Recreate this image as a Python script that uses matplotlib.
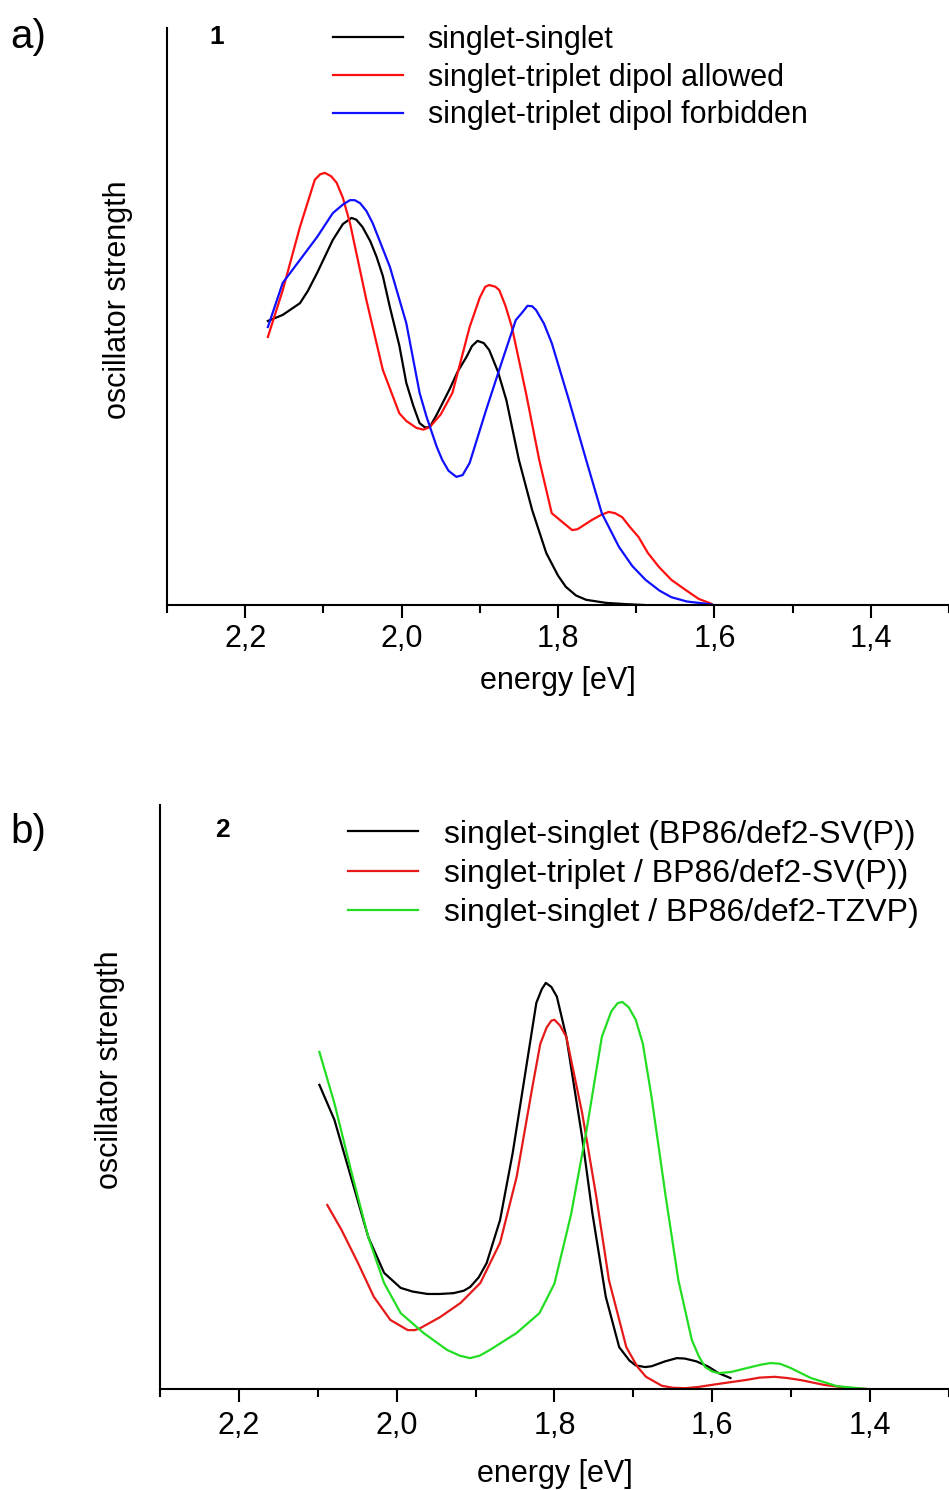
import matplotlib.pyplot as plt
from matplotlib.ticker import MultipleLocator, FuncFormatter

plt.rcParams['font.family'] = ['Liberation Sans', 'DejaVu Sans']

# --- Teil a): Verbindung 1 ---
ea_ss = [2.171, 2.152, 2.130, 2.120, 2.108, 2.098, 2.088, 2.075, 2.064, 2.058,
         2.050, 2.040, 2.032, 2.024, 2.015, 2.003, 1.994, 1.985, 1.977, 1.970,
         1.964, 1.955, 1.939, 1.928, 1.917, 1.910, 1.903, 1.895, 1.888, 1.877,
         1.866, 1.850, 1.833, 1.815, 1.800, 1.790, 1.777, 1.764, 1.739, 1.713,
         1.690]
ia_ss = [0.656, 0.670, 0.697, 0.725, 0.767, 0.805, 0.843, 0.880, 0.894, 0.890,
         0.873, 0.840, 0.804, 0.760, 0.688, 0.600, 0.513, 0.460, 0.420, 0.410,
         0.411, 0.440, 0.497, 0.540, 0.573, 0.598, 0.610, 0.605, 0.589, 0.540,
         0.473, 0.335, 0.219, 0.120, 0.068, 0.042, 0.022, 0.012, 0.005, 0.002,
         0.0]

ea_st_allowed = [2.171, 2.152, 2.130, 2.111, 2.104, 2.098, 2.090, 2.083, 2.075, 2.066,
                 2.045, 2.024, 2.003, 1.994, 1.981, 1.972, 1.964, 1.950, 1.935, 1.913,
                 1.900, 1.893, 1.888, 1.880, 1.875, 1.867, 1.859, 1.841, 1.824, 1.808,
                 1.790, 1.782, 1.775, 1.757, 1.745, 1.735, 1.727, 1.718, 1.708, 1.697,
                 1.685, 1.671, 1.655, 1.637, 1.620, 1.604]
ia_st_allowed = [0.619, 0.727, 0.873, 0.982, 0.995, 0.998, 0.990, 0.975, 0.940, 0.882,
                 0.704, 0.543, 0.443, 0.425, 0.409, 0.405, 0.411, 0.440, 0.490, 0.642,
                 0.710, 0.735, 0.739, 0.735, 0.727, 0.690, 0.642, 0.490, 0.335, 0.212,
                 0.185, 0.173, 0.175, 0.196, 0.208, 0.215, 0.212, 0.203, 0.180, 0.157,
                 0.120, 0.088, 0.058, 0.035, 0.014, 0.003]

ea_st_forbidden = [2.171, 2.152, 2.130, 2.108, 2.088, 2.075, 2.066, 2.060, 2.053, 2.045,
                   2.037, 2.015, 1.994, 1.977, 1.968, 1.955, 1.948, 1.940, 1.930, 1.922,
                   1.913, 1.892, 1.871, 1.854, 1.846, 1.839, 1.833, 1.828, 1.818, 1.808,
                   1.786, 1.764, 1.744, 1.722, 1.705, 1.688, 1.670, 1.655, 1.635, 1.611,
                   1.600]
ia_st_forbidden = [0.642, 0.744, 0.797, 0.850, 0.905, 0.925, 0.935, 0.935, 0.928, 0.910,
                   0.882, 0.781, 0.651, 0.490, 0.434, 0.365, 0.335, 0.310, 0.296, 0.300,
                   0.328, 0.450, 0.566, 0.658, 0.675, 0.691, 0.690, 0.681, 0.650, 0.605,
                   0.473, 0.335, 0.212, 0.134, 0.090, 0.058, 0.033, 0.018, 0.008, 0.003,
                   0.0]

# --- Teil b): Verbindung 2 ---
eb_ss_sv = [2.098, 2.079, 2.058, 2.036, 2.016, 1.995, 1.980, 1.961, 1.945, 1.928,
            1.915, 1.907, 1.896, 1.886, 1.869, 1.853, 1.835, 1.823, 1.816, 1.811,
            1.804, 1.797, 1.785, 1.765, 1.752, 1.735, 1.718, 1.705, 1.697, 1.685,
            1.677, 1.660, 1.645, 1.635, 1.620, 1.605, 1.592, 1.577]
ib_ss_sv = [0.749, 0.663, 0.522, 0.374, 0.286, 0.249, 0.240, 0.234, 0.234, 0.236,
            0.242, 0.251, 0.275, 0.310, 0.416, 0.581, 0.803, 0.951, 0.985, 1.000,
            0.990, 0.966, 0.867, 0.620, 0.433, 0.227, 0.103, 0.070, 0.058, 0.054,
            0.056, 0.068, 0.076, 0.075, 0.068, 0.055, 0.039, 0.027]

eb_st_sv = [2.088, 2.070, 2.049, 2.029, 2.008, 1.986, 1.977, 1.970, 1.945, 1.919,
            1.894, 1.869, 1.848, 1.828, 1.818, 1.810, 1.804, 1.800, 1.793, 1.785,
            1.765, 1.747, 1.731, 1.709, 1.695, 1.684, 1.664, 1.650, 1.634, 1.618,
            1.601, 1.580, 1.558, 1.540, 1.521, 1.505, 1.488, 1.458, 1.425, 1.404]
ib_st_sv = [0.453, 0.392, 0.310, 0.227, 0.170, 0.145, 0.145, 0.150, 0.177, 0.212,
            0.261, 0.360, 0.522, 0.744, 0.850, 0.890, 0.907, 0.909, 0.895, 0.867,
            0.680, 0.473, 0.268, 0.103, 0.055, 0.030, 0.008, 0.003, 0.002, 0.005,
            0.010, 0.016, 0.022, 0.028, 0.030, 0.027, 0.022, 0.010, 0.002, 0.0]

eb_ss_tzvp = [2.098, 2.079, 2.058, 2.036, 2.016, 1.995, 1.966, 1.936, 1.920, 1.907,
              1.895, 1.882, 1.848, 1.819, 1.800, 1.779, 1.760, 1.740, 1.728, 1.720,
              1.714, 1.706, 1.697, 1.688, 1.677, 1.659, 1.643, 1.626, 1.617, 1.609,
              1.600, 1.592, 1.576, 1.551, 1.538, 1.526, 1.514, 1.501, 1.475, 1.442,
              1.404]
ib_ss_tzvp = [0.830, 0.704, 0.539, 0.374, 0.261, 0.187, 0.138, 0.096, 0.082, 0.076,
              0.082, 0.096, 0.138, 0.187, 0.260, 0.430, 0.630, 0.867, 0.930, 0.950,
              0.953, 0.940, 0.909, 0.850, 0.719, 0.473, 0.268, 0.121, 0.080, 0.054,
              0.043, 0.039, 0.042, 0.054, 0.060, 0.064, 0.062, 0.052, 0.027, 0.007,
              0.0]

labels_a = ['singlet-singlet', 'singlet-triplet dipol allowed',
            'singlet-triplet dipol forbidden']
labels_b = ['singlet-singlet (BP86/def2-SV(P))', 'singlet-triplet / BP86/def2-SV(P))',
            'singlet-singlet / BP86/def2-TZVP)']
xticks_fmt = lambda v, pos: f'{v:.1f}'.replace('.', ',')

fig = plt.figure(figsize=(9.49, 14.90), dpi=100)
ax_a = fig.add_axes([167/949, 1 - 605/1490, 782/949, 577/1490])
ax_b = fig.add_axes([160/949, 1 - 1389/1490, 789/949, 584/1490])


def style_axes(ax, ytop, tickpad, xpad):
    ax.set_xlim(2.3, 1.3)
    ax.set_ylim(0, ytop)
    for s in ['top', 'right']:
        ax.spines[s].set_visible(False)
    ax.spines['left'].set_linewidth(1.5)
    ax.spines['bottom'].set_linewidth(1.5)
    ax.set_yticks([])
    ax.xaxis.set_major_locator(MultipleLocator(0.2))
    ax.xaxis.set_minor_locator(MultipleLocator(0.1))
    ax.xaxis.set_major_formatter(FuncFormatter(xticks_fmt))
    ax.tick_params(axis='x', which='major', direction='out', length=9, width=1.5,
                   pad=tickpad, labelsize=22)
    ax.tick_params(axis='x', which='minor', direction='out', length=6, width=1.5)
    ax.set_xlabel('energy [eV]', fontsize=22, labelpad=xpad)
    ax.set_ylabel('oscillator strength', fontsize=22)


style_axes(ax_a, 1.3326, 5, 8.5)
ax_a.plot(ea_ss, ia_ss, color='black', lw=1.6, label=labels_a[0])
ax_a.plot(ea_st_allowed, ia_st_allowed, color='#ff1010', lw=1.6, label=labels_a[1])
ax_a.plot(ea_st_forbidden, ia_st_forbidden, color='#1010ff', lw=1.6, label=labels_a[2])
ax_a.yaxis.set_label_coords(-0.0436, 0.529)
ax_a.text(0.063, 0.984, '1', transform=ax_a.transAxes, fontsize=19,
          fontweight='bold', ha='center', va='center')
ax_a.legend(loc='upper left', bbox_to_anchor=(0.212, 1.005), frameon=False,
            fontsize=22, handlelength=2.3, handletextpad=0.8, labelspacing=0.25,
            borderpad=0, borderaxespad=0)

style_axes(ax_b, 1.438, 7, 13)
ax_b.plot(eb_ss_sv, ib_ss_sv, color='black', lw=1.6, label=labels_b[0])
ax_b.plot(eb_st_sv, ib_st_sv, color='#e61919', lw=1.6, label=labels_b[1])
ax_b.plot(eb_ss_tzvp, ib_ss_tzvp, color='#22dd22', lw=1.6, label=labels_b[2])
ax_b.yaxis.set_label_coords(-0.0447, 0.546)
ax_b.text(0.079, 0.957, '2', transform=ax_b.transAxes, fontsize=19,
          fontweight='bold', ha='center', va='center')
ax_b.legend(loc='upper left', bbox_to_anchor=(0.238, 0.975), frameon=False,
            fontsize=23, handlelength=2.2, handletextpad=0.8, labelspacing=0.29,
            borderpad=0, borderaxespad=0)

fig.text(0.011, 1 - 37/1490, 'a)', fontsize=29, va='center', ha='left')
fig.text(0.011, 1 - 832/1490, 'b)', fontsize=29, va='center', ha='left')

fig.savefig('out.png', dpi=100)
